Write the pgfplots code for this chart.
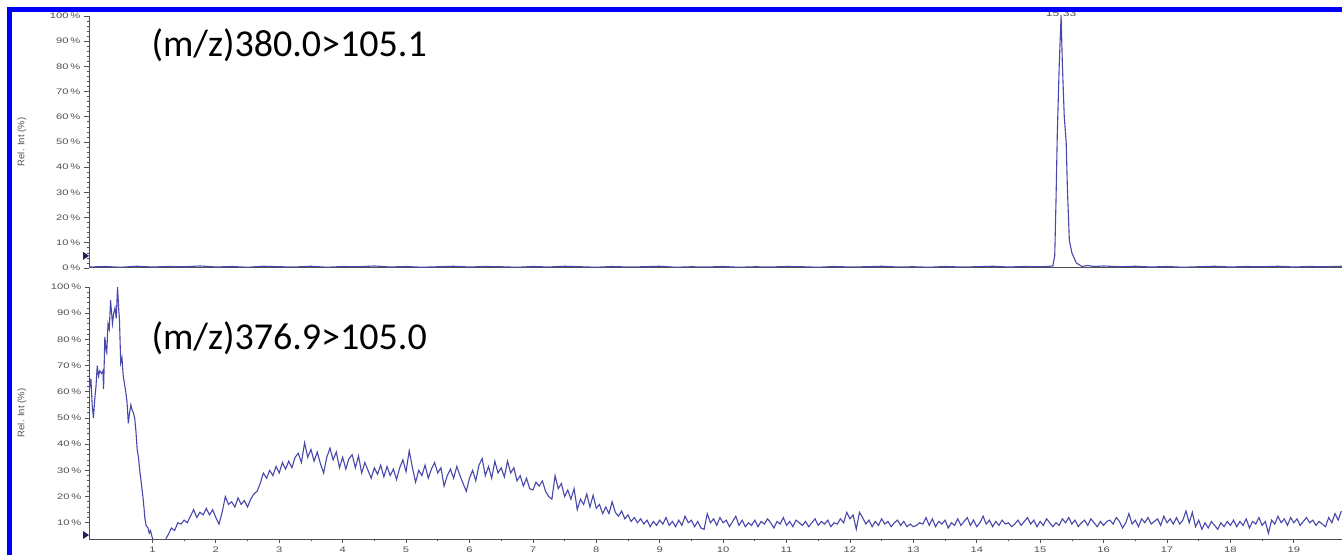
\documentclass[border=0pt]{standalone}
\usepackage{fontspec}
\setmainfont{Liberation Sans}
\newfontfamily\carlito{Carlito}
\usepackage{graphicx}
\usepackage{pgfplots}
\usepackage{pgfplotstable}
\pgfplotsset{compat=1.18}
\definecolor{trace}{RGB}{72,72,172}
\definecolor{frameblue}{RGB}{0,0,250}
\definecolor{axgray}{RGB}{80,80,80}
\definecolor{navy}{RGB}{30,30,90}

\pgfplotstableread{
t y
0.00 0.4
0.25 0.6
0.50 0.3
0.75 0.7
1.00 0.4
1.25 0.6
1.50 0.5
1.75 0.8
2.00 0.4
2.25 0.6
2.50 0.3
2.75 0.7
3.00 0.5
3.25 0.4
3.50 0.7
3.75 0.3
4.00 0.6
4.25 0.5
4.50 0.8
4.75 0.4
5.00 0.6
5.25 0.3
5.50 0.5
5.75 0.7
6.00 0.4
6.25 0.6
6.50 0.5
6.75 0.3
7.00 0.6
7.25 0.4
7.50 0.7
7.75 0.5
8.00 0.3
8.25 0.6
8.50 0.4
8.75 0.5
9.00 0.7
9.25 0.3
9.50 0.5
9.75 0.4
10.00 0.6
10.25 0.3
10.50 0.5
10.75 0.4
11.00 0.6
11.25 0.5
11.50 0.3
11.75 0.6
12.00 0.4
12.25 0.5
12.50 0.7
12.75 0.4
13.00 0.5
13.25 0.3
13.50 0.6
13.75 0.4
14.00 0.5
14.25 0.7
14.50 0.4
14.75 0.6
15.00 0.5
15.10 0.6
15.20 0.8
15.23 5
15.25 27
15.27 53
15.30 80
15.33 100
15.35 81
15.38 60
15.41 50
15.43 31
15.46 11
15.50 6
15.57 2
15.66 0.6
15.75 1.0
15.85 0.6
16.00 0.8
16.25 0.5
16.50 0.7
16.75 0.4
17.00 0.6
17.25 0.3
17.50 0.5
17.75 0.7
18.00 0.4
18.25 0.6
18.50 0.5
18.75 0.7
19.00 0.4
19.25 0.6
19.50 0.5
19.76 0.7
}\topdata

\pgfplotstableread{
t y
0.00 60
0.03 65
0.05 55
0.07 50
0.09 57
0.11 62
0.13 70
0.15 66
0.17 68
0.20 67
0.22 68
0.23 61
0.25 81
0.27 76
0.28 75
0.30 86
0.32 84
0.34 95
0.36 89
0.37 86
0.39 90
0.41 92
0.43 88
0.45 100
0.47 91
0.48 88
0.50 71
0.52 73
0.54 66
0.56 63
0.58 60
0.60 56
0.62 48
0.64 52
0.66 55
0.68 53
0.70 52
0.72 50
0.74 45
0.76 38
0.78 35
0.80 30
0.83 24
0.85 20
0.87 15
0.88 12
0.90 9
0.93 8
0.95 6
0.97 7
0.99 5
1.01 3.5
1.03 2
1.06 1
1.10 0.5
1.15 1
1.19 2.5
1.22 4.2
1.25 5.5
1.30 8
1.35 7
1.40 10
1.45 9.5
1.50 11
1.55 10
1.60 12.5
1.65 15
1.70 12
1.75 14
1.80 13
1.85 15.5
1.90 13
1.95 15
2.00 12
2.05 9.5
2.10 14
2.15 20
2.20 17
2.25 18
2.30 16
2.35 19.5
2.40 17
2.45 18.5
2.50 16
2.55 19
2.60 21
2.65 22
2.70 25
2.75 29
2.80 27
2.85 30
2.90 28
2.95 31.5
3.00 29
3.05 33
3.10 30.5
3.15 33.5
3.20 31
3.25 35
3.30 36.5
3.35 33
3.40 40.5
3.45 35
3.50 38
3.55 33.5
3.60 37
3.65 32.5
3.70 29
3.75 35
3.80 38.5
3.85 34
3.90 37
3.95 31
4.00 35
4.05 30.5
4.10 34.5
4.15 36
4.20 31
4.25 35.5
4.30 29
4.35 33
4.40 30
4.45 27
4.50 31
4.55 28.5
4.60 32
4.65 27.5
4.70 31.5
4.75 28
4.80 30.5
4.85 26.5
4.90 31
4.95 34
5.00 29.5
5.05 37.5
5.10 31
5.15 25.5
5.20 30
5.25 28
5.30 32
5.35 27
5.40 30.5
5.45 33
5.50 29
5.55 31
5.60 24
5.65 28
5.70 30.5
5.75 27
5.80 31.5
5.85 28
5.90 25
5.95 22
6.00 27
6.05 30
6.10 26
6.15 32
6.20 34.5
6.25 28
6.30 31.5
6.35 27
6.40 33.5
6.45 29
6.50 31
6.55 27.5
6.60 33.5
6.65 29
6.70 31
6.75 26
6.80 28
6.85 24
6.90 27
6.95 23
7.00 22.5
7.05 25.5
7.10 24
7.15 26
7.20 22
7.25 20
7.30 19
7.35 28
7.40 23
7.45 25
7.50 20
7.55 22.5
7.60 19
7.65 23
7.70 15
7.75 19
7.80 17
7.85 21
7.90 16
7.95 20.5
8.00 15.5
8.05 17
8.10 13.5
8.15 16
8.20 13.5
8.25 18
8.30 14
8.35 12.5
8.40 14.5
8.45 11.5
8.50 13
8.55 10.5
8.60 12
8.65 10
8.70 11.5
8.75 9.5
8.80 11
8.85 8.5
8.90 10.5
8.95 9
9.00 11
9.05 9.5
9.10 12
9.15 9
9.20 10.5
9.25 8.5
9.30 11
9.35 9
9.40 12.5
9.45 10
9.50 11
9.55 8.5
9.60 10.5
9.65 8
9.70 7.5
9.75 13.5
9.80 10
9.85 11.5
9.90 9
9.95 12
10.00 10
10.05 11
10.10 8.5
10.15 10.5
10.20 12.5
10.25 9
10.30 11
10.35 8.5
10.40 10
10.45 9
10.50 11
10.55 8.5
10.60 10.5
10.65 9.5
10.70 11.5
10.75 10
10.80 8
10.85 10.5
10.90 9.5
10.95 12
11.00 9
11.05 10.5
11.10 8.5
11.15 11
11.20 10
11.25 9
11.30 10.5
11.35 8.5
11.40 10
11.45 11.5
11.50 9
11.55 10.5
11.60 9.5
11.65 11
11.70 8.5
11.75 10
11.80 9.5
11.85 11.5
11.90 10
11.95 14
12.00 11.5
12.05 13
12.10 7.5
12.15 14
12.20 12
12.25 9.5
12.30 11
12.35 8.5
12.40 10.5
12.45 9
12.50 11.5
12.55 9.5
12.60 10.5
12.65 8.5
12.70 10
12.75 11
12.80 9
12.85 10.5
12.90 8.5
12.95 9.5
13.00 8.5
13.05 9
13.10 10
13.15 9.5
13.20 12
13.25 9
13.30 11.5
13.35 8.5
13.40 10.5
13.45 9.5
13.50 11
13.55 8
13.60 10
13.65 9
13.70 11.5
13.75 9
13.80 10.5
13.85 12
13.90 9
13.95 11
14.00 8.5
14.05 10
14.10 12.5
14.15 9.5
14.20 11
14.25 8.5
14.30 10.5
14.35 9
14.40 11
14.45 9.5
14.50 10
14.55 8.5
14.60 9.5
14.65 11
14.70 9
14.75 10.5
14.80 12
14.85 9.5
14.90 11
14.95 8.5
15.00 10.5
15.05 9
15.10 11.5
15.15 10
15.20 8.5
15.25 10
15.30 9
15.35 11.5
15.40 10
15.45 12
15.50 9.5
15.55 11
15.60 8.5
15.65 10
15.70 11
15.75 9
15.80 11.5
15.85 10
15.90 8.5
15.95 10.5
16.00 9
16.05 10.5
16.10 11
16.15 9.5
16.20 12
16.25 10.5
16.30 8
16.35 10
16.40 13.5
16.45 9.5
16.50 11
16.55 8.5
16.60 11.5
16.65 10
16.70 12
16.75 9.5
16.80 10.5
16.85 11.5
16.90 9
16.95 12.5
17.00 10
17.05 11.5
17.10 9.5
17.15 12
17.20 9.5
17.25 11
17.30 14.5
17.35 10
17.40 14
17.45 8.5
17.50 11
17.55 7.5
17.60 10
17.65 8
17.70 10.5
17.75 9
17.80 7.5
17.85 10
17.90 8.5
17.95 10.5
18.00 9
18.05 11
18.10 8.5
18.15 10.5
18.20 9
18.25 11.5
18.30 8
18.35 10.5
18.40 9.5
18.45 12
18.50 9
18.55 10.5
18.60 6
18.65 11
18.70 9.5
18.75 12.5
18.80 10
18.85 11.5
18.90 9
18.95 12
19.00 10
19.05 11.5
19.10 9
19.15 10.5
19.20 12
19.25 10
19.30 11
19.35 9
19.40 10.5
19.45 9.5
19.50 8.5
19.55 12
19.60 10
19.65 13.5
19.70 11
19.75 14.5
}\botdata

\pgfplotsset{chrom/.style={
  scale only axis, width=1253pt, height=252pt,
  xmin=0, xmax=19.76,
  axis x line*=bottom, axis y line*=left,
  axis line style={axgray, line width=1pt},
  tick style={axgray, line width=0.7pt},
  tick align=outside,
  major tick length=5pt, minor tick length=2.5pt,
  minor y tick num=4,
  /pgf/number format/assume math mode=true,
  yticklabel={\scalebox{1.4}[1]{\pgfmathprintnumber{\tick}\,\%}},
  ticklabel style={font=\fontsize{8}{9}\selectfont, text=axgray},
  ylabel={Rel. Int (\%)},
  ylabel style={at={(axis description cs:-0.0535,0.5)}, anchor=center,
    font=\fontsize{9.5}{10}\selectfont, text=axgray},
  clip mode=individual,
}}

\begin{document}
\begin{tikzpicture}
\useasboundingbox (0,0) rectangle (1342pt,555pt);
\begin{axis}[chrom, at={(89pt,287pt)}, anchor=south west,
  ymin=0, ymax=100, ytick={0,10,...,100}, xtick=\empty, minor xtick={}]
\addplot[trace, line width=1.1pt] table[x=t, y=y] {\topdata};
\fill[navy] (axis cs:0,4.8) ++(-6pt,4pt) -- ++(6pt,-4pt) -- ++(-6pt,-4pt) -- cycle;
\node[text=axgray, font=\fontsize{9}{10}\selectfont] at (axis cs:15.33,100) [yshift=3pt] {\scalebox{1.35}[1]{15.33}};
\node[anchor=west, font=\carlito\fontsize{38}{40}\selectfont] at (axis cs:0.93,88.5) {(m/z)380.0>105.1};
\end{axis}
\begin{axis}[chrom, at={(89pt,16pt)}, anchor=south west,
  ymin=3.8, ymax=100, ytick={10,20,...,100},
  xtick={1,2,...,19}, minor x tick num=1,
  major tick length=4pt, minor tick length=2pt,
  xticklabel={\scalebox{1.4}[1]{\pgfmathprintnumber{\tick}}},
  xlabel={Time (min)},
  xlabel style={font=\fontsize{9}{10}\selectfont, text=axgray, yshift=1pt, xshift=-10pt}]
\addplot[trace, line width=1.1pt] table[x=t, y=y] {\botdata};
\fill[navy] (axis cs:0,5.3) ++(-6pt,4pt) -- ++(6pt,-4pt) -- ++(-6pt,-4pt) -- cycle;
\node[anchor=west, font=\carlito\fontsize{38}{40}\selectfont] at (axis cs:0.93,80.5) {(m/z)376.9>105.0};
\end{axis}
\fill[frameblue] (7pt,0pt) rectangle (12pt,548pt);
\fill[frameblue] (7pt,543pt) rectangle (1342pt,548pt);
\end{tikzpicture}
\end{document}
